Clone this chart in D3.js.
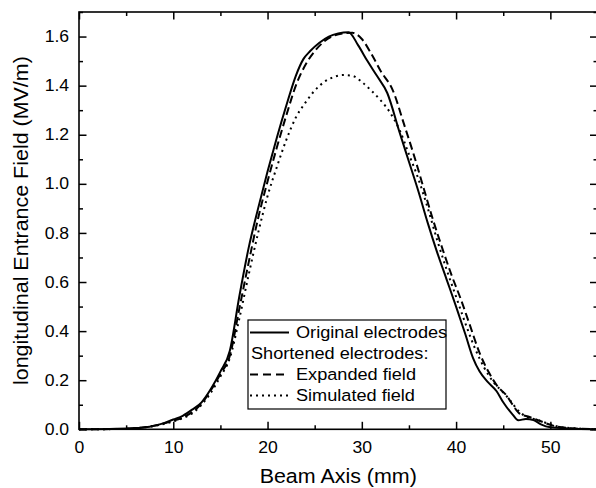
<!DOCTYPE html>
<html>
<head>
<meta charset="utf-8">
<script src="https://cdn.jsdelivr.net/npm/d3@7"></script>
<style>
    body { margin: 0; background: #fff; }
    svg { display: block; }
    text { font-family: "Liberation Sans", Arial, sans-serif; fill: #000; }
</style>
</head>
<body>
<div id="chart"></div>
<script>
// Tick values
const xTicks = [0, 10, 20, 30, 40, 50]
const xMinor = [5, 15, 25, 35, 45, 55]
const yTicks = [0, 0.2, 0.4, 0.6, 0.8, 1.0, 1.2, 1.4, 1.6]
const yMinor = [0.1, 0.3, 0.5, 0.7, 0.9, 1.1, 1.3, 1.5, 1.7]

// Original electrodes (solid)
const origX = [0, 4, 6, 7.5, 9, 10, 11, 12, 13, 14, 15, 16, 17, 18, 19, 20, 21, 22, 23, 23.8, 24.5, 25.5, 26.5, 27.5, 28.6, 29.6, 30.6, 31.6, 32.7, 34, 35, 36, 37, 38, 39, 40, 41, 41.8, 42.5, 43.3, 44.3, 45, 46, 46.6, 47.4, 48.2, 49, 50, 52, 55]
const origY = [0, 0.002, 0.005, 0.01, 0.025, 0.04, 0.055, 0.08, 0.11, 0.165, 0.235, 0.32, 0.54, 0.74, 0.90, 1.05, 1.19, 1.32, 1.44, 1.508, 1.54, 1.575, 1.600, 1.613, 1.618, 1.565, 1.50, 1.44, 1.37, 1.21, 1.09, 0.97, 0.84, 0.72, 0.61, 0.50, 0.385, 0.29, 0.235, 0.195, 0.155, 0.11, 0.06, 0.037, 0.042, 0.038, 0.02, 0.008, 0.003, 0]

// Shortened electrodes, expanded field (dashed)
const expX = [0, 4, 6, 8, 10, 11, 12, 13, 14, 15, 16, 17, 18, 19, 20, 21, 22, 23, 24.1, 25, 26, 27, 28, 29, 30, 31, 32, 33.3, 34.5, 35.5, 36.5, 37.5, 38.6, 39.5, 40.5, 41.5, 42.5, 43.5, 44.5, 45.3, 46, 46.7, 47.8, 48.5, 49.5, 50.3, 52, 55]
const expY = [0, 0.001, 0.004, 0.015, 0.035, 0.048, 0.07, 0.105, 0.16, 0.225, 0.30, 0.49, 0.68, 0.86, 1.01, 1.15, 1.28, 1.40, 1.49, 1.54, 1.58, 1.603, 1.613, 1.615, 1.59, 1.53, 1.46, 1.38, 1.24, 1.12, 0.99, 0.86, 0.73, 0.63, 0.53, 0.42, 0.31, 0.23, 0.17, 0.14, 0.1, 0.065, 0.05, 0.04, 0.025, 0.015, 0.005, 0]

// Shortened electrodes, simulated field (dotted)
const simX = [0, 4, 6, 8, 10, 11, 12, 13, 14, 15, 16, 17, 18, 19, 20, 21, 22, 23, 24, 25, 26, 27, 28, 29, 30, 31, 32, 33, 34, 35, 36, 37, 38, 39, 40, 41, 42, 43, 44, 45, 45.7, 46.5, 47.5, 48.5, 50, 51, 53, 55]
const simY = [0, 0.001, 0.004, 0.014, 0.032, 0.045, 0.065, 0.1, 0.15, 0.215, 0.29, 0.45, 0.63, 0.80, 0.95, 1.07, 1.18, 1.27, 1.33, 1.38, 1.415, 1.435, 1.443, 1.44, 1.415, 1.38, 1.34, 1.29, 1.22, 1.12, 1.02, 0.90, 0.77, 0.65, 0.54, 0.43, 0.33, 0.25, 0.19, 0.15, 0.12, 0.08, 0.05, 0.04, 0.02, 0.01, 0.003, 0]

const width = 596
const height = 488
const margin = { left: 79, right: 597.5, top: 12, bottom: 429.3 }
const stretch = 'scale(1.1,1)'

const svg = d3.select('#chart')
    .append('svg')
    .attr('width', width)
    .attr('height', height)

const xScale = d3.scaleLinear()
    .domain([0, 55])
    .range([margin.left, margin.right])

const yScale = d3.scaleLinear()
    .domain([0, 1.7])
    .range([margin.bottom, margin.top])

// axes with inward ticks
const styleAxis = (g) => {
    g.select('.domain').remove()
    g.selectAll('line').attr('stroke', '#000').attr('stroke-width', 1.5)
}

svg.append('g')
    .attr('transform', 'translate(0,' + margin.bottom + ')')
    .call(d3.axisBottom(xScale).tickValues(xTicks).tickSize(-7.5).tickPadding(12))
    .call(styleAxis)
    .call(g => g.selectAll('text').attr('font-size', 16).attr('transform', stretch))

svg.append('g')
    .attr('transform', 'translate(0,' + margin.bottom + ')')
    .call(d3.axisBottom(xScale).tickValues(xMinor).tickSize(-4).tickFormat(''))
    .call(styleAxis)

svg.append('g')
    .attr('transform', 'translate(0,' + margin.top + ')')
    .call(d3.axisTop(xScale).tickValues(xTicks).tickSize(-7.5).tickFormat(''))
    .call(styleAxis)

svg.append('g')
    .attr('transform', 'translate(0,' + margin.top + ')')
    .call(d3.axisTop(xScale).tickValues(xMinor).tickSize(-4).tickFormat(''))
    .call(styleAxis)

svg.append('g')
    .attr('transform', 'translate(' + margin.left + ',0)')
    .call(d3.axisLeft(yScale).tickValues(yTicks).tickSize(-7.5).tickPadding(9).tickFormat(d3.format('.1f')))
    .call(styleAxis)
    .call(g => g.selectAll('text').attr('font-size', 16).attr('transform', stretch))

svg.append('g')
    .attr('transform', 'translate(' + margin.left + ',0)')
    .call(d3.axisLeft(yScale).tickValues(yMinor).tickSize(-4).tickFormat(''))
    .call(styleAxis)

svg.append('g')
    .attr('transform', 'translate(' + margin.right + ',0)')
    .call(d3.axisRight(yScale).tickValues(yTicks).tickSize(-7.5).tickFormat(''))
    .call(styleAxis)

svg.append('g')
    .attr('transform', 'translate(' + margin.right + ',0)')
    .call(d3.axisRight(yScale).tickValues(yMinor).tickSize(-4).tickFormat(''))
    .call(styleAxis)

// frame
svg.append('rect')
    .attr('x', margin.left)
    .attr('y', margin.top)
    .attr('width', margin.right - margin.left)
    .attr('height', margin.bottom - margin.top)
    .attr('fill', 'none')
    .attr('stroke', '#000')
    .attr('stroke-width', 1.6)

// curves
const line = d3.line()
    .x(d => xScale(d[0]))
    .y(d => yScale(d[1]))
    .curve(d3.curveMonotoneX)

const series = [
    { xs: simX, ys: simY, dash: '2,4' },
    { xs: expX, ys: expY, dash: '8,4' },
    { xs: origX, ys: origY, dash: null }
]

series.forEach(s => {
    svg.append('path')
        .datum(s.xs.map((v, i) => [v, s.ys[i]]))
        .attr('d', line)
        .attr('fill', 'none')
        .attr('stroke', '#000')
        .attr('stroke-width', 2)
        .attr('stroke-dasharray', s.dash)
})

// axis titles
svg.append('text')
    .attr('transform', 'translate(' + (margin.left + margin.right) / 2 + ',483) ' + stretch)
    .attr('text-anchor', 'middle')
    .attr('font-size', 19.5)
    .text('Beam Axis (mm)')

svg.append('text')
    .attr('transform', 'translate(28,' + (margin.top + margin.bottom) / 2 + ') rotate(-90) ' + stretch)
    .attr('text-anchor', 'middle')
    .attr('font-size', 19.5)
    .text('longitudinal Entrance Field (MV/m)')

// legend
const legend = svg.append('g')
legend.append('rect')
    .attr('x', 248)
    .attr('y', 320)
    .attr('width', 198)
    .attr('height', 89)
    .attr('fill', '#fff')
    .attr('stroke', '#000')
    .attr('stroke-width', 1.2)

const legendRows = [
    { label: 'Original electrodes', dash: null, sample: true, x: 296, y: 338 },
    { label: 'Shortened electrodes:', dash: null, sample: false, x: 251, y: 359 },
    { label: 'Expanded field', dash: '8,5', sample: true, x: 296, y: 380 },
    { label: 'Simulated field', dash: '2,4', sample: true, x: 296, y: 401 }
]

legendRows.forEach(r => {
    if (r.sample) {
        legend.append('line')
            .attr('x1', 250).attr('x2', 289)
            .attr('y1', r.y - 5.5).attr('y2', r.y - 5.5)
            .attr('stroke', '#000')
            .attr('stroke-width', 2)
            .attr('stroke-dasharray', r.dash)
    }
    legend.append('text')
        .attr('transform', 'translate(' + r.x + ',' + r.y + ') ' + stretch)
        .attr('font-size', 16.5)
        .text(r.label)
})
</script>
</body>
</html>
